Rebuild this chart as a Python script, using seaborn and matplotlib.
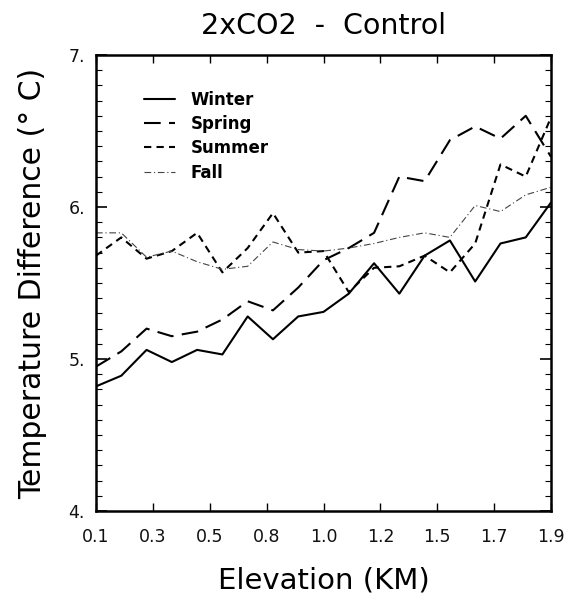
import numpy as np
import pandas as pd
import matplotlib
matplotlib.use("Agg")
import matplotlib.pyplot as plt
import seaborn as sns
from matplotlib.ticker import MultipleLocator, FixedLocator

elevation = [0.1, 0.2, 0.3, 0.4, 0.5, 0.6, 0.7, 0.8, 0.9, 1.0,
             1.1, 1.2, 1.3, 1.4, 1.5, 1.6, 1.7, 1.8, 1.9]
winter = [4.82, 4.89, 5.06, 4.98, 5.06, 5.03, 5.28, 5.13, 5.28, 5.31,
          5.43, 5.63, 5.43, 5.68, 5.78, 5.51, 5.76, 5.80, 6.03]
spring = [4.95, 5.05, 5.20, 5.15, 5.18, 5.26, 5.38, 5.32, 5.47, 5.65,
          5.73, 5.83, 6.20, 6.17, 6.44, 6.53, 6.45, 6.60, 6.33]
summer = [5.68, 5.80, 5.66, 5.71, 5.83, 5.57, 5.73, 5.96, 5.70, 5.71,
          5.44, 5.60, 5.61, 5.68, 5.57, 5.76, 6.28, 6.20, 6.59]
fall = [5.83, 5.83, 5.67, 5.71, 5.64, 5.59, 5.61, 5.77, 5.72, 5.71,
        5.73, 5.76, 5.80, 5.83, 5.80, 6.01, 5.97, 6.08, 6.13]

xtick_pos = [0.1, 0.325, 0.55, 0.775, 1.0, 1.225, 1.45, 1.675, 1.9]
xtick_labels = ["0.1", "0.3", "0.5", "0.8", "1.0", "1.2", "1.5", "1.7", "1.9"]
ytick_labels = ["4.", "5.", "6.", "7."]

sns.set_theme(style="white")
plt.rcParams['font.family'] = ['DejaVu Sans']

fig = plt.figure(figsize=(5.69, 5.94), dpi=100)
ax = fig.add_axes([0.1687, 0.1397, 0.7997, 0.7677])

series = [
    ("Winter", winter, dict(linestyle="-", linewidth=1.5, color="black")),
    ("Spring", spring, dict(dashes=(8, 4), linewidth=1.5, color="black")),
    ("Summer", summer, dict(dashes=(3.5, 2.5), linewidth=1.5, color="black")),
    ("Fall", fall, dict(dashes=(6, 2.5, 1, 2.5), linewidth=0.8, color="#444444")),
]
for name, vals, style in series:
    df = pd.DataFrame({"Elevation": elevation, "Value": vals})
    sns.lineplot(data=df, x="Elevation", y="Value", ax=ax, label=name, **style)

ax.set_xlim(0.1, 1.9)
ax.set_ylim(4, 7)
ax.xaxis.set_major_locator(FixedLocator(xtick_pos))
ax.set_xticklabels(xtick_labels)
ax.set_yticks([4, 5, 6, 7])
ax.set_yticklabels(ytick_labels)
ax.yaxis.set_minor_locator(MultipleLocator(0.1))

ax.tick_params(axis="both", which="both", direction="in", top=True, right=True,
               bottom=True, left=True, color="black")
ax.tick_params(axis="x", which="major", length=6, width=1, labelsize=12.5,
               pad=12, labelcolor="#111111")
ax.tick_params(axis="y", which="major", length=8, width=1.2, labelsize=12.5,
               pad=8, labelcolor="#111111")
ax.tick_params(axis="y", which="minor", length=4, width=0.8)

for sp in ax.spines.values():
    sp.set_color("black")
    sp.set_linewidth(1.8)

ax.set_title("2xCO2  -  Control", fontsize=20.5, pad=15, color="black")
ax.set_xlabel("Elevation (KM)", fontsize=21, labelpad=15, color="black")
ax.set_ylabel("Temperature Difference (° C)", fontsize=21.5, labelpad=15,
              color="black")

leg = ax.legend(loc="upper left", bbox_to_anchor=(0.105, 0.922), frameon=False,
                handlelength=1.9, handletextpad=0.9,
                labelspacing=0.38, borderpad=0, borderaxespad=0,
                prop={"size": 12, "weight": "bold"}, labelcolor="black")

fig.savefig("out.png", dpi=100)
